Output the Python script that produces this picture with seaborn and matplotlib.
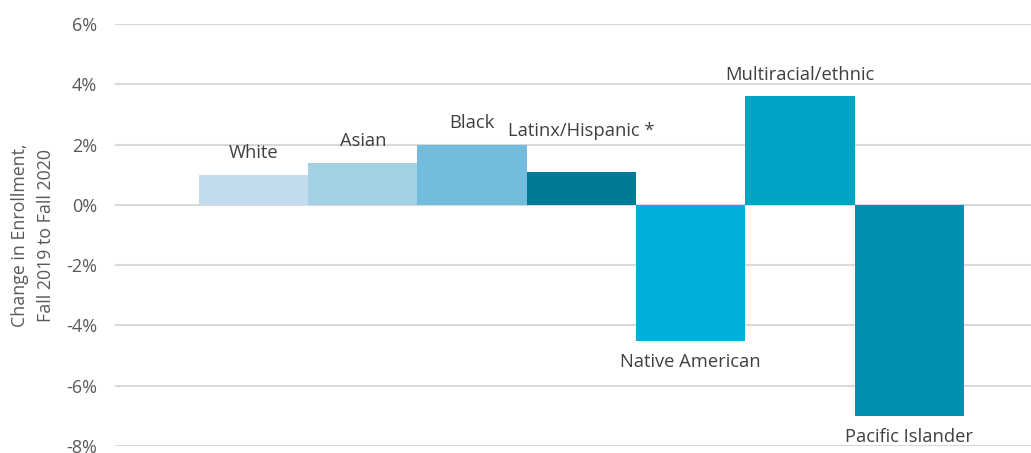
import matplotlib
matplotlib.use("Agg")
import matplotlib.pyplot as plt
import seaborn as sns
import pandas as pd

categories = ["White", "Asian", "Black", "Latinx/Hispanic *", "Native American",
              "Multiracial/ethnic", "Pacific Islander"]
values = [1.0, 1.4, 2.0, 1.1, -4.5, 3.6, -7.0]
colors = ["#c0dced", "#a2d0e5", "#73bddc", "#007a96", "#00b0d8", "#00a3c4", "#0090b2"]
yticks = [-8, -6, -4, -2, 0, 2, 4, 6]

sns.set_theme(style="white")
plt.rcParams["font.family"] = ["Open Sans", "DejaVu Sans"]

df = pd.DataFrame({"cat": categories, "val": values})

fig = plt.figure(figsize=(10.31, 4.53), dpi=100)
ax = fig.add_axes([115/1031, 1-446/453, (1031-115)/1031, (446-24)/453])

sns.barplot(data=df, x="cat", y="val", hue="cat", palette=colors, width=1.0,
            dodge=False, legend=False, ax=ax, saturation=1, zorder=3, linewidth=0)

ax.set_ylim(-8, 6)
ax.set_xlim(-1.267, 7.112)
ax.set_yticks(yticks)
ax.set_yticklabels([f"{t}%" for t in yticks], color="#595959", fontsize=13)
ax.set_xticks([])
ax.set_xlabel("")
ax.set_ylabel("Change in Enrollment,\nFall 2019 to Fall 2020", color="#595959",
              fontsize=12.8, labelpad=8, linespacing=1.55)
ax.tick_params(axis="y", length=0, pad=13)
ax.grid(axis="y", color="#d9d9d9", linewidth=1.5, zorder=0)
for s in ax.spines.values():
    s.set_visible(False)

for i, (c, v) in enumerate(zip(categories, values)):
    extra = 14 if c.startswith("Latinx") else 0
    if v >= 0:
        ax.annotate(c, (i, v), xytext=(0, 9 + extra), textcoords="offset points",
                    ha="center", va="bottom", fontsize=13.2, color="#404040")
    else:
        ax.annotate(c, (i, v), xytext=(0, -9), textcoords="offset points",
                    ha="center", va="top", fontsize=13.2, color="#404040")

fig.savefig("out.png", dpi=100)
